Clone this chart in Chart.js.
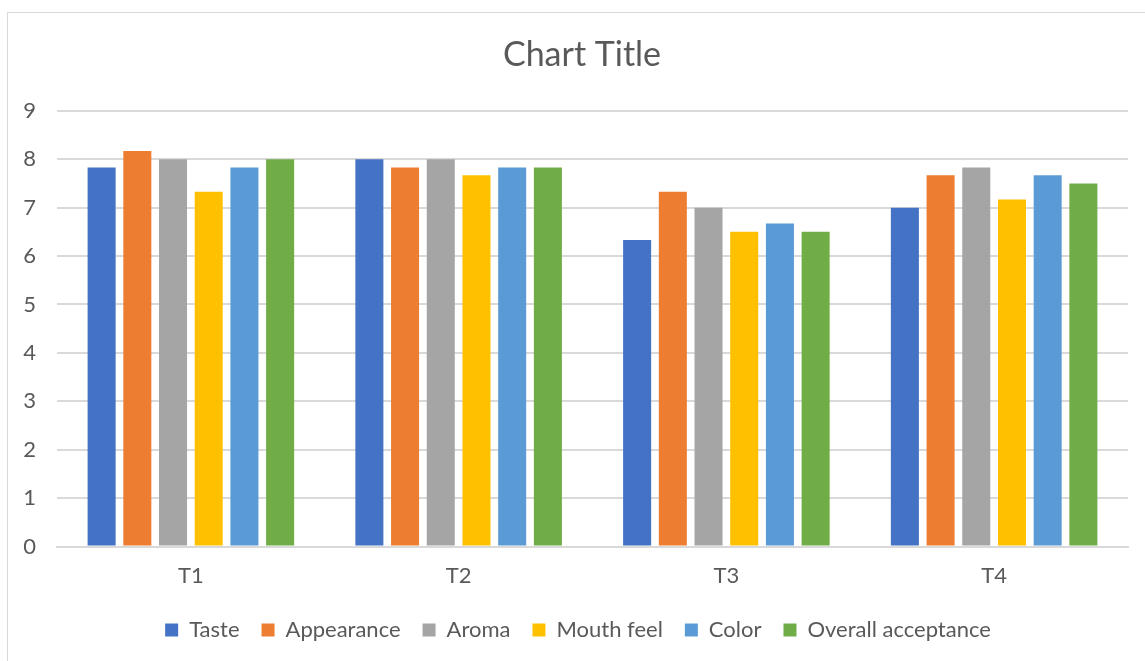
<!DOCTYPE html>
<html>
<head>
<meta charset="utf-8">
<script src="https://cdn.jsdelivr.net/npm/chart.js@4.4.1/dist/chart.umd.min.js"></script>
<style>
  html, body { margin: 0; padding: 0; background: #ffffff; }
  #wrap { position: relative; width: 1145px; height: 661px; overflow: hidden; }
  #frame { position: absolute; left: 7px; top: 12px; width: 1200px; height: 700px; border: 1px solid #d9d9d9; box-sizing: border-box; }
  canvas { position: absolute; left: 0; top: 0; }
</style>
</head>
<body>
<div id="wrap">
  <div id="frame"></div>
  <canvas id="c" width="1145" height="661"></canvas>
</div>
<script>
const categories = ["T1", "T2", "T3", "T4"];
const seriesNames = ["Taste", "Appearance", "Aroma", "Mouth feel", "Color", "Overall acceptance"];
const taste = [7.83, 8.0, 6.33, 7.0];
const appearance = [8.17, 7.83, 7.33, 7.67];
const aroma = [8.0, 8.0, 7.0, 7.83];
const mouthFeel = [7.33, 7.67, 6.5, 7.17];
const color = [7.83, 7.83, 6.67, 7.67];
const overallAcceptance = [8.0, 7.83, 6.5, 7.5];
const yTicks = [0, 1, 2, 3, 4, 5, 6, 7, 8, 9];
const seriesColors = ["#4472C4", "#ED7D31", "#A5A5A5", "#FFC000", "#5B9BD5", "#70AD47"];

const seriesValues = [taste, appearance, aroma, mouthFeel, color, overallAcceptance];
const FONT = "Lato, 'Open Sans', sans-serif";
const TXT = "#595959";
const LEGEND_PAD = 22;

// shift title and legend to the frame centre (the reference centres them on the whole frame)
const centerShift = {
  id: "centerShift",
  beforeDraw(chart) {
    if (chart.titleBlock) { chart.titleBlock.left += 18; chart.titleBlock.right += 18; }
    if (chart.legend) { chart.legend.left += 14; chart.legend.right += 14; }
  },
  afterDraw(chart) {
    if (chart.titleBlock) { chart.titleBlock.left -= 18; chart.titleBlock.right -= 18; }
    if (chart.legend) { chart.legend.left -= 14; chart.legend.right -= 14; }
  }
};

new Chart(document.getElementById("c"), {
  type: "bar",
  data: {
    labels: categories,
    datasets: seriesNames.map((n, i) => ({
      label: n,
      data: seriesValues[i],
      backgroundColor: seriesColors[i],
      borderWidth: 0,
      categoryPercentage: 0.80,
      barPercentage: 0.785
    }))
  },
  plugins: [centerShift],
  options: {
    responsive: false,
    animation: false,
    layout: { padding: { left: 0, right: 17, top: 0, bottom: 10 } },
    plugins: {
      title: {
        display: true,
        text: "Chart Title",
        color: TXT,
        font: { family: FONT, size: 34, weight: "normal" },
        padding: { top: 35, bottom: 35 }
      },
      legend: {
        position: "bottom",
        labels: {
          color: TXT,
          font: { family: FONT, size: 22 },
          boxWidth: 13,
          boxHeight: 13,
          padding: LEGEND_PAD
        }
      },
      tooltip: { enabled: false }
    },
    scales: {
      x: {
        grid: { display: false, drawTicks: false },
        border: { color: "#d9d9d9", width: 2 },
        ticks: { color: TXT, font: { family: FONT, size: 22 }, padding: 16 },
        afterFit: (s) => { s.height = s.height - 8; }
      },
      y: {
        min: 0,
        max: 9,
        afterBuildTicks: (s) => { s.ticks = yTicks.map(v => ({ value: v })); },
        afterFit: (s) => { s.width = 57; },
        grid: { color: "#d9d9d9", lineWidth: 2, drawTicks: false },
        border: { display: false },
        ticks: { color: TXT, font: { family: FONT, size: 22 }, padding: 21 }
      }
    }
  }
});
</script>
</body>
</html>
